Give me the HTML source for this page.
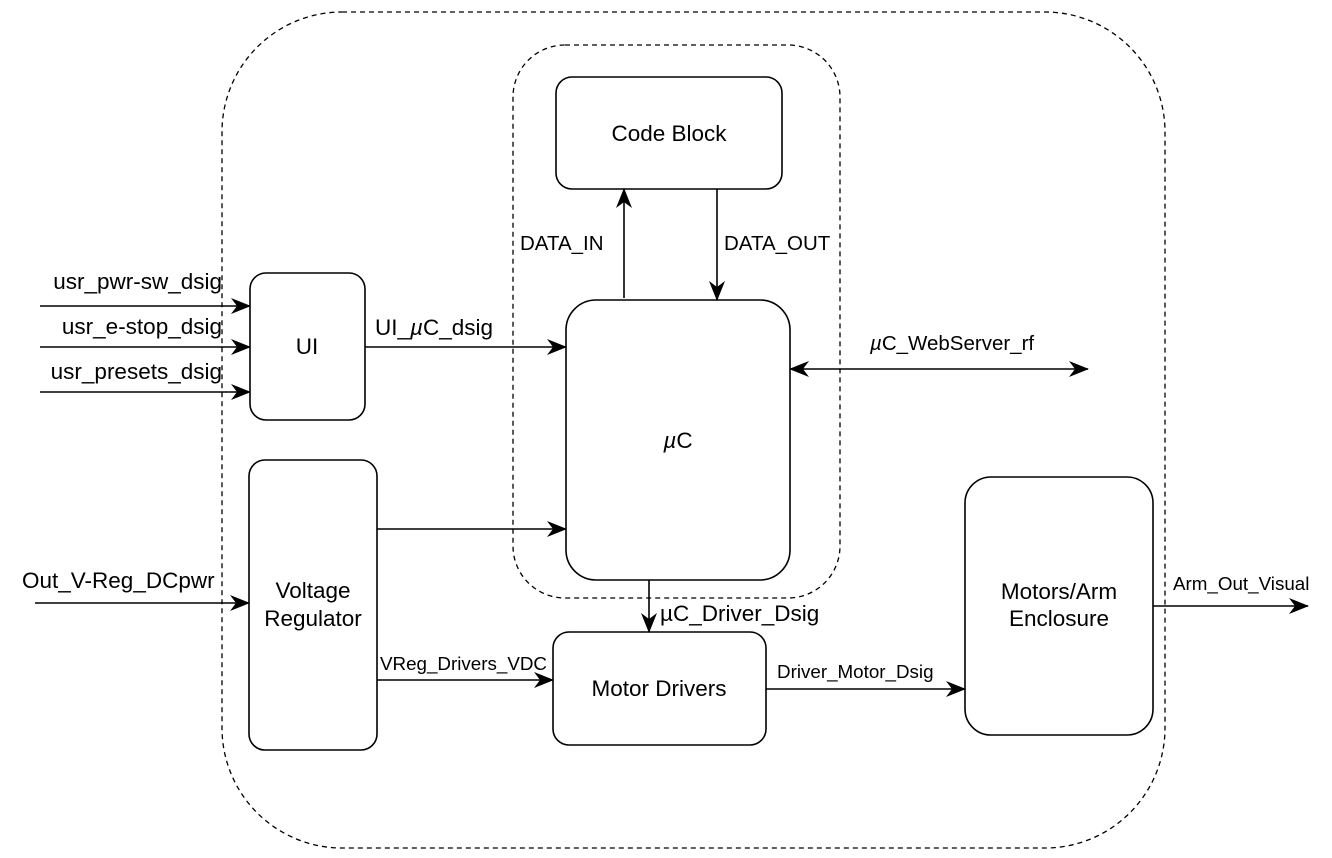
<!DOCTYPE html>
<html><head><meta charset="utf-8"><style>
html,body{margin:0;padding:0;background:#fff;}
svg{display:block;}
text{font-family:"Liberation Sans",sans-serif;fill:#000;}
</style></head><body>
<svg width="1332" height="858" viewBox="0 0 1332 858" xmlns="http://www.w3.org/2000/svg">
<defs>
<marker id="b" markerWidth="20" markerHeight="16" refX="19" refY="8" orient="auto-start-reverse" markerUnits="userSpaceOnUse" viewBox="0 0 20 16">
<path d="M0,0 L20,8 L0,16 L6,8 Z" fill="#000"/>
</marker>
</defs>
<g fill="none" stroke="#000" stroke-width="1.3" stroke-dasharray="5,4">
<rect x="222" y="12" width="943" height="836" rx="120"/>
<rect x="513" y="45" width="327" height="553" rx="52"/>
</g>
<g fill="#fff" stroke="#000" stroke-width="1.6">
<rect x="556" y="77" width="226" height="112" rx="16"/>
<rect x="566" y="300" width="224" height="280" rx="30"/>
<rect x="250" y="273" width="115" height="147" rx="16"/>
<rect x="249" y="460" width="128" height="290" rx="16"/>
<rect x="553" y="632" width="213" height="113" rx="16"/>
<rect x="965" y="477" width="188" height="258" rx="26"/>
</g>
<g stroke="#000" stroke-width="1.6" fill="none" marker-end="url(#b)">
<line x1="40" y1="306" x2="250" y2="306"/>
<line x1="40" y1="347" x2="250" y2="347"/>
<line x1="40" y1="392" x2="250" y2="392"/>
<line x1="365" y1="347" x2="566" y2="347"/>
<line x1="377" y1="529" x2="566" y2="529"/>
<line x1="35" y1="603" x2="249" y2="603"/>
<line x1="377" y1="680" x2="553" y2="680"/>
<line x1="649" y1="580" x2="649" y2="632"/>
<line x1="766" y1="689" x2="965" y2="689"/>
<line x1="1153" y1="606" x2="1308" y2="606"/>
<line x1="624" y1="298" x2="624" y2="189"/>
<line x1="717" y1="189" x2="717" y2="300"/>
<line x1="790" y1="369" x2="1088" y2="369" marker-start="url(#b)"/>
</g>
<g font-size="22.5">
<text x="222" y="289" text-anchor="end">usr_pwr-sw_dsig</text>
<text x="222" y="334" text-anchor="end">usr_e-stop_dsig</text>
<text x="222" y="379" text-anchor="end">usr_presets_dsig</text>
<text x="307" y="354" text-anchor="middle">UI</text>
<text x="375" y="335">UI_<tspan font-style="italic">µ</tspan>C_dsig</text>
<text x="669" y="141" text-anchor="middle">Code Block</text>
<text x="678" y="448" text-anchor="middle"><tspan font-style="italic">µ</tspan>C</text>
<text x="313" y="598" text-anchor="middle">Voltage</text>
<text x="313" y="626" text-anchor="middle">Regulator</text>
<text x="22" y="588">Out_V-Reg_DCpwr</text>
<text x="660" y="621">µC_Driver_Dsig</text>
<text x="659" y="696" text-anchor="middle">Motor Drivers</text>
<text x="1059" y="599" text-anchor="middle">Motors/Arm</text>
<text x="1059" y="626" text-anchor="middle">Enclosure</text>
</g>
<g font-size="20.5">
<text x="520" y="250">DATA_IN</text>
<text x="724" y="250">DATA_OUT</text>
<text x="870" y="350"><tspan font-style="italic">µ</tspan>C_WebServer_rf</text>
</g>
<g font-size="18.8">
<text x="380" y="670">VReg_Drivers_VDC</text>
<text x="777" y="678">Driver_Motor_Dsig</text>
<text x="1173" y="590">Arm_Out_Visual</text>
</g>
</svg>
</body></html>
